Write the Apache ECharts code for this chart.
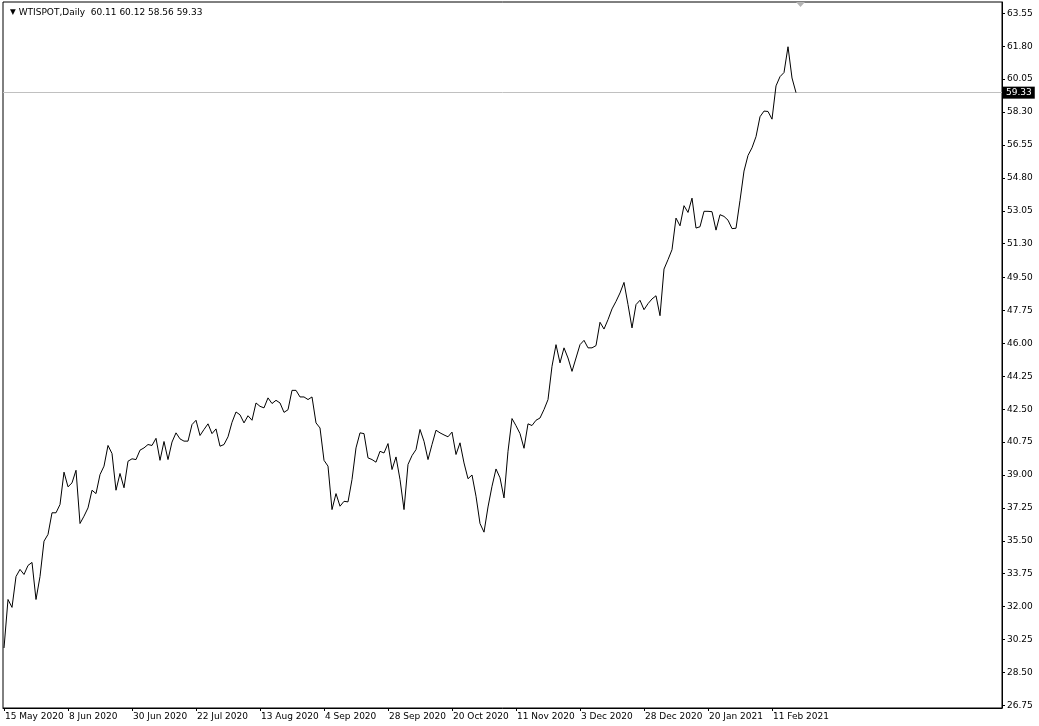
<!DOCTYPE html>
<html>
<head>
<meta charset="utf-8">
<script src="https://cdn.jsdelivr.net/npm/echarts@6/dist/echarts.min.js"></script>
<style>
  html, body { margin: 0; padding: 0; background: #fff; }
  #chart { width: 1039px; height: 726px; }
</style>
</head>
<body>
<div id="chart"></div>
<script>
// ---- data ----
const symbolName = 'WTISPOT';
const timeframe = 'Daily';
const lastBarOHLC = [60.11, 60.12, 58.56, 59.33];

// daily closes, one per bar (bar 0 = 15 May 2020)
const closes = [
  29.8, 32.38, 31.96, 33.6, 33.98, 33.71, 34.19, 34.35, 32.38, 33.6,
  35.48, 35.84, 36.99, 36.99, 37.43, 39.15, 38.37, 38.58, 39.25, 36.42,
  36.81, 37.25, 38.19, 38.01, 39.02, 39.47, 40.57, 40.14, 38.19, 39.08,
  38.32, 39.73, 39.86, 39.82, 40.32, 40.44, 40.62, 40.57, 40.95, 39.78,
  40.78, 39.82, 40.75, 41.24, 40.92, 40.8, 40.8, 41.68, 41.91, 41.1,
  41.42, 41.72, 41.2, 41.45, 40.53, 40.62, 41.03, 41.8, 42.35, 42.2,
  41.77, 42.15, 41.91, 42.83, 42.65, 42.57, 43.1, 42.8, 42.97, 42.83,
  42.33, 42.47, 43.5, 43.5, 43.15, 43.15, 43.01, 43.15, 41.77, 41.5,
  39.78, 39.47, 37.16, 38.01, 37.34, 37.6, 37.57, 38.76, 40.44, 41.24,
  41.2, 39.91, 39.82, 39.68, 40.26, 40.17, 40.67, 39.29, 39.96, 38.76,
  37.16, 39.56, 40.03, 40.35, 41.42, 40.79, 39.82, 40.62, 41.38, 41.24,
  41.13, 41.03, 41.28, 40.09, 40.71, 39.64, 38.8, 39.0, 37.87, 36.42,
  35.96, 37.3, 38.4, 39.32, 38.85, 37.78, 40.26, 42.0, 41.62, 41.2,
  40.42, 41.72, 41.63, 41.91, 42.03, 42.48, 43.01, 44.78, 45.93, 44.96,
  45.76, 45.22, 44.51, 45.22, 45.93, 46.16, 45.76, 45.76, 45.88, 47.12,
  46.76, 47.26, 47.83, 48.23, 48.68, 49.24, 48.06, 46.82, 48.06, 48.29,
  47.79, 48.11, 48.36, 48.53, 47.47, 49.95, 50.45, 50.98, 52.66, 52.25,
  53.32, 52.96, 53.72, 52.13, 52.2, 53.02, 53.02, 53.0, 52.02, 52.84,
  52.75, 52.55, 52.1, 52.12, 53.6, 55.16, 55.99, 56.4, 56.99, 58.05,
  58.35, 58.33, 57.92, 59.69, 60.18, 60.4, 61.77, 60.11, 59.33
];

// x tick labels and the bar index where each sits
const xTickLabels = ['15 May 2020', '8 Jun 2020', '30 Jun 2020', '22 Jul 2020', '13 Aug 2020',
  '4 Sep 2020', '28 Sep 2020', '20 Oct 2020', '11 Nov 2020', '3 Dec 2020',
  '28 Dec 2020', '20 Jan 2021', '11 Feb 2021'];
const xTickIndex = [0, 16, 32, 48, 64, 80, 96, 112, 128, 144, 160, 176, 192];

// y tick labels (price scale)
const yTickLabels = ['26.75', '28.50', '30.25', '32.00', '33.75', '35.50', '37.25', '39.00',
  '40.75', '42.50', '44.25', '46.00', '47.75', '49.50', '51.30', '53.05', '54.80',
  '56.55', '58.30', '60.05', '61.80', '63.55'];
const yTickValues = yTickLabels.map(Number);

// ---- chart ----
const FONT = 'DejaVu Sans';
const FS = 9;
const chart = echarts.init(document.getElementById('chart'), null, { renderer: 'canvas' });
const lastClose = lastBarOHLC[3];

chart.setOption({
  animation: false,
  backgroundColor: '#fff',
  title: {
    left: 5, top: 3,
    text: '{tri|▼} ' + symbolName + ',' + timeframe + '  ' + lastBarOHLC.map(v => v.toFixed(2)).join(' '),
    textStyle: {
      fontFamily: FONT, fontSize: FS, fontWeight: 'normal', color: '#000',
      rich: { tri: { fontSize: 7.5, color: '#000', fontFamily: FONT } }
    }
  },
  grid: {
    left: 3, right: 37, top: 2, bottom: 18,
    show: true, borderColor: '#000', borderWidth: 1, backgroundColor: '#fff'
  },
  xAxis: {
    type: 'value',
    min: -0.25, max: 249.5,
    axisLine: { show: true, onZero: false, lineStyle: { color: '#000', width: 1 } },
    axisTick: { show: true, customValues: xTickIndex, length: 3, lineStyle: { color: '#000' } },
    axisLabel: {
      customValues: xTickIndex,
      formatter: v => xTickLabels[xTickIndex.indexOf(Math.round(v))] || '',
      align: 'left', margin: 4, padding: [0, 0, 0, 1],
      fontFamily: FONT, fontSize: FS, color: '#000'
    },
    splitLine: { show: false }
  },
  yAxis: {
    type: 'value', position: 'right',
    min: 26.61, max: 64.15,
    axisLine: { show: true, onZero: false, lineStyle: { color: '#000', width: 1 } },
    axisTick: { show: true, customValues: yTickValues, length: 3, lineStyle: { color: '#000' } },
    axisLabel: {
      customValues: yTickValues,
      formatter: v => {
        let best = 0;
        yTickValues.forEach((t, i) => { if (Math.abs(t - v) < Math.abs(yTickValues[best] - v)) best = i; });
        return yTickLabels[best];
      },
      margin: 5, fontFamily: FONT, fontSize: FS, color: '#000'
    },
    splitLine: { show: false }
  },
  series: [{
    type: 'line',
    data: closes.map((v, i) => [i, v]),
    showSymbol: false,
    symbol: 'none',
    lineStyle: { color: '#000', width: 1 },
    z: 3,
    markLine: {
      silent: true,
      symbol: ['none', 'none'],
      data: [{ yAxis: lastClose }],
      lineStyle: { color: '#c0c0c0', type: 'solid', width: 1 },
      label: {
        position: 'end', distance: 1,
        formatter: lastClose.toFixed(2),
        backgroundColor: '#000', color: '#fff',
        padding: [2, 3, 1, 3],
        fontFamily: FONT, fontSize: FS
      },
      z: 2
    }
  }],
  graphic: [{
    type: 'polygon',
    shape: { points: [[796, 2], [805, 2], [800.5, 7]] },
    style: { fill: '#b4b4b4' },
    silent: true
  }]
});
</script>
</body>
</html>
